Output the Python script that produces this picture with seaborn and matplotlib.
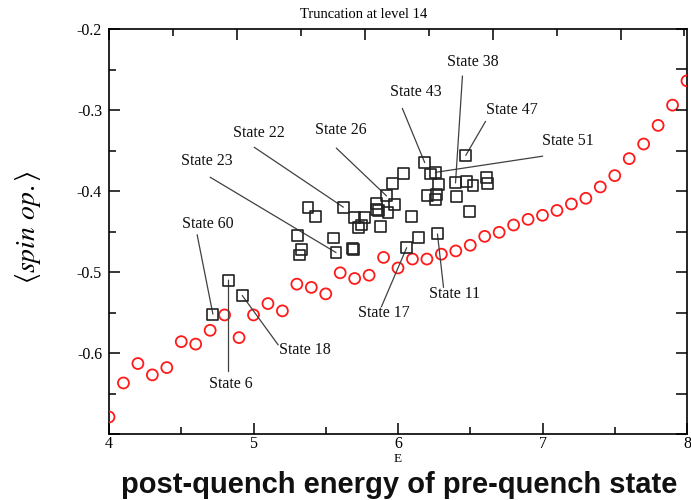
import matplotlib
matplotlib.use("Agg")
import matplotlib.pyplot as plt
import seaborn as sns
import pandas as pd
from matplotlib.ticker import MultipleLocator, NullFormatter

# Red circles: spin expectation along the post-quench spectrum
circle_energy = [4.0, 4.1, 4.2, 4.3, 4.4, 4.5, 4.6, 4.7, 4.8, 4.9,
                 5.0, 5.1, 5.2, 5.3, 5.4, 5.5, 5.6, 5.7, 5.8, 5.9,
                 6.0, 6.1, 6.2, 6.3, 6.4, 6.5, 6.6, 6.7, 6.8, 6.9,
                 7.0, 7.1, 7.2, 7.3, 7.4, 7.5, 7.6, 7.7, 7.8, 7.9, 8.0]
circle_spin = [-0.679, -0.637, -0.613, -0.627, -0.618, -0.586, -0.589, -0.572, -0.553, -0.581,
               -0.553, -0.539, -0.548, -0.515, -0.519, -0.527, -0.501, -0.508, -0.504, -0.482,
               -0.495, -0.484, -0.484, -0.478, -0.474, -0.467, -0.456, -0.451, -0.442, -0.435,
               -0.430, -0.424, -0.416, -0.409, -0.395, -0.381, -0.360, -0.342, -0.319, -0.294, -0.264]

# Black squares: pre-quench states (the labelled ones come first)
square_energy = [4.719, 4.827, 4.922, 5.571, 5.622, 5.920, 6.060, 6.273, 6.185, 6.259, 6.398, 6.469,
                 5.305, 5.335, 5.319, 5.377, 5.426, 5.552, 5.682, 5.691, 5.698, 5.765, 5.729,
                 5.746, 5.880, 5.852, 5.848, 5.866, 5.977, 5.931, 5.959, 6.035, 6.091, 6.141,
                 6.225, 6.278, 6.474, 6.519, 6.615, 6.622, 6.204, 6.269, 6.257, 6.403, 6.497]
square_spin = [-0.552, -0.510, -0.529, -0.476, -0.420, -0.406, -0.470, -0.453, -0.365, -0.377, -0.390, -0.356,
               -0.455, -0.472, -0.479, -0.420, -0.431, -0.458, -0.471, -0.472, -0.433, -0.433, -0.445,
               -0.442, -0.444, -0.415, -0.423, -0.424, -0.417, -0.426, -0.391, -0.378, -0.431, -0.457,
               -0.379, -0.392, -0.388, -0.393, -0.383, -0.391, -0.406, -0.404, -0.410, -0.407, -0.425]

state_labels = ["State 60", "State 6", "State 18", "State 23", "State 22", "State 26",
                "State 17", "State 11", "State 43", "State 51", "State 38", "State 47"]
state_index = [0, 1, 2, 3, 4, 5, 6, 7, 8, 9, 10, 11]

# where each label sits and where its leader line begins (data coordinates)
label_pos = [(4.686, -0.441), (4.845, -0.638), (5.358, -0.596), (4.679, -0.363),
             (5.040, -0.328), (5.601, -0.325), (5.899, -0.551), (6.391, -0.527),
             (6.121, -0.278), (7.174, -0.338), (6.516, -0.241), (6.786, -0.300)]
leader_start = [(4.610, -0.454), (4.827, -0.623), (5.171, -0.590), (4.700, -0.383),
                (5.005, -0.346), (5.573, -0.347), (5.885, -0.543), (6.315, -0.519),
                (6.030, -0.298), (7.001, -0.357), (6.446, -0.258), (6.606, -0.314)]

circles = pd.DataFrame({"E": circle_energy, "spin": circle_spin})
squares = pd.DataFrame({"E": square_energy, "spin": square_spin})

sns.set_style("ticks")
plt.rcParams["font.family"] = ["Liberation Serif", "DejaVu Serif"]
plt.rcParams["mathtext.fontset"] = "stix"
plt.rcParams["text.color"] = "black"
plt.rcParams["xtick.color"] = "black"
plt.rcParams["ytick.color"] = "black"

fig = plt.figure(figsize=(6.91, 5.0), dpi=100)
ax = fig.add_axes([109 / 691, 1 - 434 / 500, (687 - 109) / 691, (434 - 29) / 500])

sns.scatterplot(data=circles, x="E", y="spin", ax=ax, marker="o", s=62,
                facecolor="none", edgecolor="#ff1a1a", linewidth=1.3, zorder=3)
sns.scatterplot(data=squares, x="E", y="spin", ax=ax, marker="s", s=62,
                facecolor="none", edgecolor="#222222", linewidth=1.2, zorder=4)

for lab, idx, tpos, lpos in zip(state_labels, state_index, label_pos, leader_start):
    target = (square_energy[idx], square_spin[idx])
    ax.annotate("", xy=target, xytext=lpos,
                arrowprops=dict(arrowstyle="-", color="#404040", lw=0.9,
                                shrinkA=0, shrinkB=0))
    ax.text(tpos[0], tpos[1], lab, ha="center", va="center", fontsize=11.5, color="#111111")

ax.set_xlim(4, 8)
ax.set_ylim(-0.7, -0.2)
ax.xaxis.set_minor_locator(MultipleLocator(0.5))
ax.yaxis.set_minor_locator(MultipleLocator(0.05))
ax.tick_params(which="both", direction="in", top=False, right=False, labelsize=11.5,
               width=1.1, colors="black")
ax.tick_params(which="major", length=8, pad=5)
ax.tick_params(axis="x", which="major", pad=1.5)
ax.tick_params(which="minor", length=5)
ax.set_yticks([-0.7, -0.6, -0.5, -0.4, -0.3, -0.2])
ax.set_yticklabels(["", "-0.6", "-0.5", "-0.4", "-0.3", "-0.2"])
ax.set_xticks([4, 5, 6, 7, 8])
ax.set_xticklabels(["4", "5", "6", "7", "8"])
ax.set_xlabel("")
ax.set_ylabel("")
for sp in ax.spines.values():
    sp.set_visible(True)
    sp.set_linewidth(1.2)
    sp.set_color("black")

# right-hand ticks every 0.05, all the same length
ax_r = ax.twinx()
ax_r.set_ylim(-0.7, -0.2)
ax_r.yaxis.set_major_locator(MultipleLocator(0.05))
ax_r.yaxis.set_major_formatter(NullFormatter())
ax_r.tick_params(axis="y", direction="in", length=8, width=1.1, colors="black")
for sp in ax_r.spines.values():
    sp.set_visible(False)

# top ticks on their own scale
ax_t = ax.twiny()
ax_t.set_xlim(0, 4.52)
ax_t.xaxis.set_major_locator(MultipleLocator(1))
ax_t.xaxis.set_minor_locator(MultipleLocator(0.5))
ax_t.xaxis.set_major_formatter(NullFormatter())
ax_t.tick_params(axis="x", which="major", direction="in", length=8, width=1.1, colors="black")
ax_t.tick_params(axis="x", which="minor", direction="in", length=5, width=1.1, colors="black")
for sp in ax_t.spines.values():
    sp.set_visible(False)

fig.text(363.5 / 691, 1 - 14 / 500, "Truncation at level 14", ha="center", va="center", fontsize=10.5)
fig.text(398 / 691, 1 - 459 / 500, "E", ha="center", va="center", fontsize=9.5)
fig.text(28 / 691, 1 - 227 / 500, r"$\langle spin\ op.\rangle$", rotation=90,
         ha="center", va="center", fontsize=20)
fig.text(399 / 691, 1 - 493 / 500, "post-quench energy of pre-quench state", ha="center",
         va="baseline", fontsize=21, fontweight="bold", color="#111111",
         family=["Liberation Sans", "DejaVu Sans"])

fig.savefig("out.png", dpi=100)
